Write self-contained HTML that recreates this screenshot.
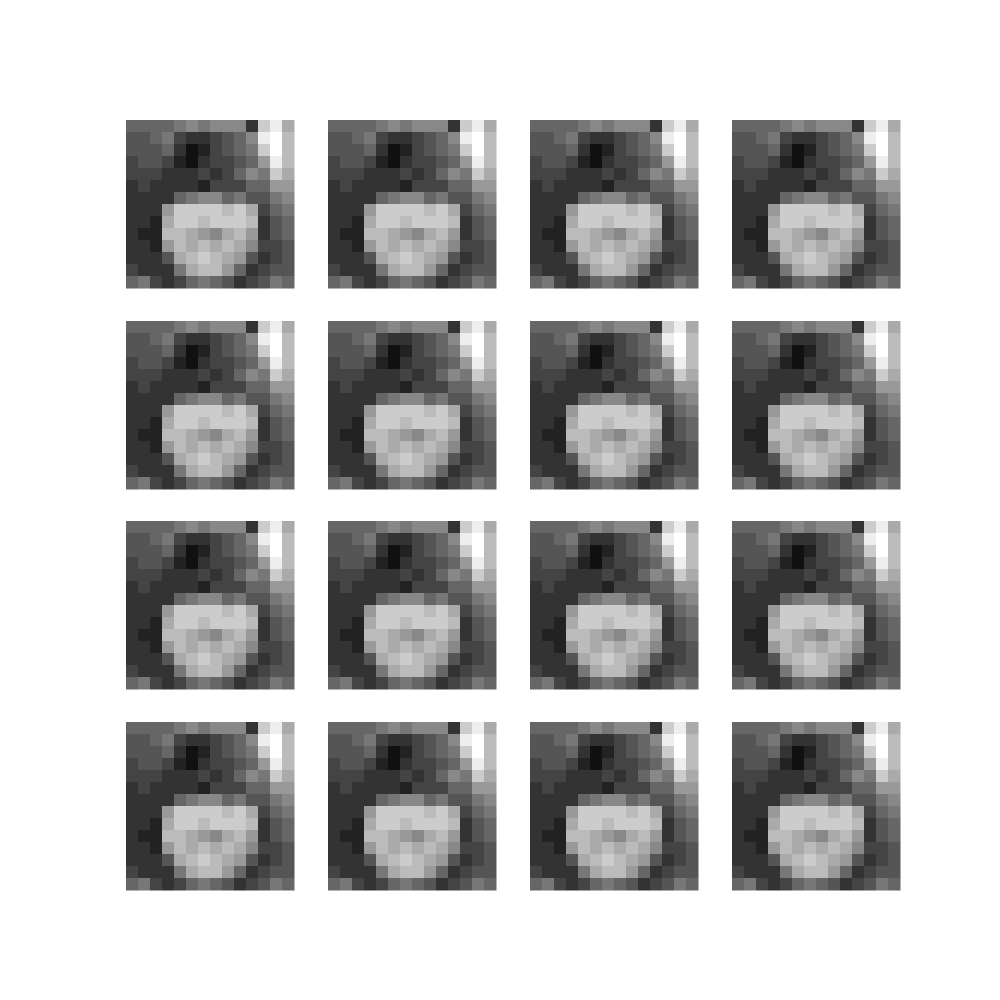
<!DOCTYPE html>
<html><head><meta charset="utf-8"><style>
html,body{margin:0;padding:0;background:#fff;width:1000px;height:1000px;overflow:hidden}
svg{display:block}
</style></head><body>
<svg id="chart" width="1000" height="1000" shape-rendering="crispEdges"></svg>
<script>
// grayscale levels (0-15) of the face image, 14x14 coarse grid
const face = [
[6,6,6,6,7,8,7,8,8,8,3,12,14,10],
[5,5,6,7,4,3,3,4,5,6,8,14,15,11],
[5,5,5,6,3,1,2,4,5,6,7,12,15,11],
[4,5,5,4,2,1,3,4,4,5,6,9,14,11],
[4,4,4,3,3,3,4,3,4,6,8,7,12,10],
[3,4,3,3,3,3,2,4,4,4,6,6,9,9],
[3,3,3,3,6,7,8,8,6,7,5,5,7,8],
[3,3,3,9,12,12,12,12,11,12,10,4,6,7],
[3,3,2,10,12,12,11,12,12,12,11,3,5,6],
[3,2,2,11,11,10,9,8,10,11,9,3,5,6],
[3,3,2,9,11,10,11,10,11,10,8,4,4,5],
[3,3,3,5,10,11,12,11,10,9,5,3,4,5],
[4,3,3,3,7,10,11,11,9,6,3,4,5,5],
[6,7,4,3,4,6,7,6,5,3,4,5,7,6]
];
const colStarts = [126, 328, 530, 732];
const rowStarts = [120, 321, 521, 722];
const panelSize = 168;
const svg = document.getElementById('chart');
const NS = 'http://www.w3.org/2000/svg';
rowStarts.forEach((y0, r) => {
  colStarts.forEach((x0, c) => {
    const g = document.createElementNS(NS, 'g');
    
    
    const n = face.length;
    const cell = panelSize / n;
    face.forEach((row, i) => {
      row.forEach((lv, j) => {
        const v = lv * 17;
        const rect = document.createElementNS(NS, 'rect');
        rect.setAttribute('x', (x0 + j * cell).toFixed(2));
        rect.setAttribute('y', (y0 + i * cell).toFixed(2));
        rect.setAttribute('width', (cell + 0.6).toFixed(2));
        rect.setAttribute('height', (cell + 0.6).toFixed(2));
        rect.setAttribute('fill', `rgb(${v},${v},${v})`);
        g.appendChild(rect);
      });
    });
    svg.appendChild(g);
  });
});
</script>
</body></html>
